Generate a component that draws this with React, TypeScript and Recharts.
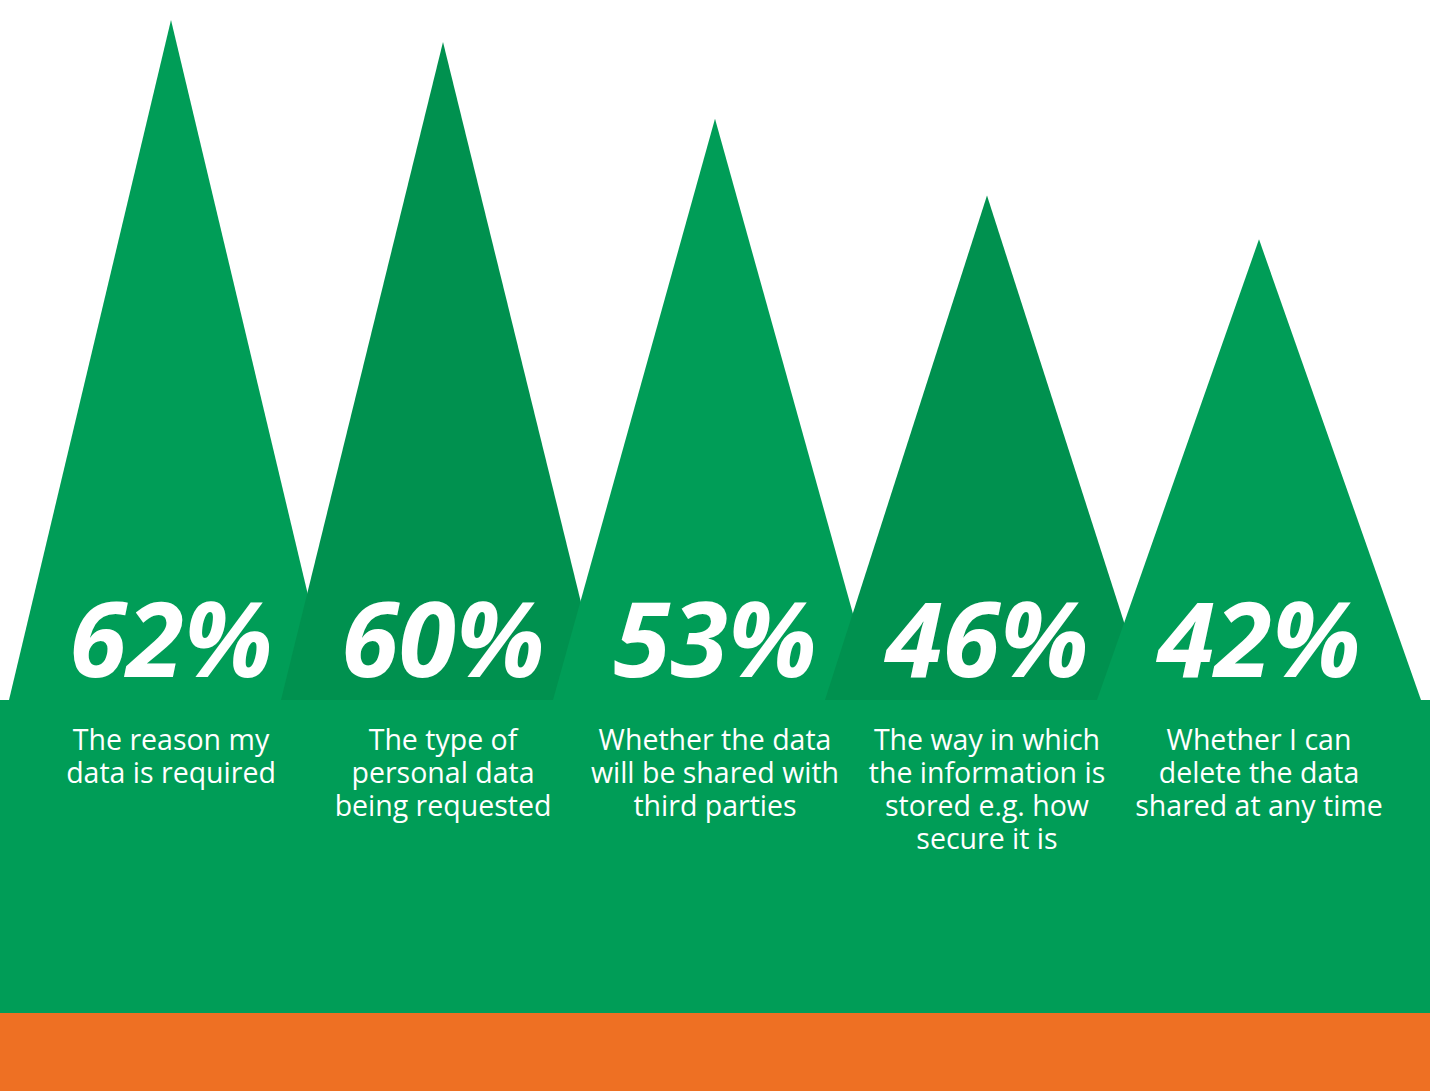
import React from 'react';
import { BarChart, Bar, XAxis, YAxis, Cell, LabelList } from 'recharts';

const CATEGORIES = [
  'The reason my\ndata is required',
  'The type of\npersonal data\nbeing requested',
  'Whether the data\nwill be shared with\nthird parties',
  'The way in which\nthe information is\nstored e.g. how\nsecure it is',
  'Whether I can\ndelete the data\nshared at any time',
];

const VALUES = [62, 60, 53, 46, 42];

const COLORS = ['#009D57', '#00914F', '#009D57', '#00914F', '#009D57'];

const data = CATEGORIES.map((name, i) => ({ name, value: VALUES[i] }));

const HALF_BASE = 162;

const Triangle = (props: any) => {
  const { x, y, width, height, fill } = props;
  const cx = x + width / 2;
  const by = y + height;
  return <path d={`M${cx - HALF_BASE},${by} L${cx},${y} L${cx + HALF_BASE},${by} Z`} fill={fill} />;
};

const PctLabel = (props: any) => {
  const { x, y, width, height, value } = props;
  return (
    <text
      x={x + width / 2}
      y={y + height - 23}
      textAnchor="middle"
      fill="#fff"
      fontFamily="'Open Sans', sans-serif"
      fontWeight={700}
      fontStyle="italic"
      fontSize={104}
    >
      {value}%
    </text>
  );
};

// multi-line category labels under each peak
const CategoryTick = (props: any) => {
  const { x, y, payload } = props;
  const lines = String(payload.value).split('\n');
  return (
    <text
      x={x}
      y={y}
      textAnchor="middle"
      fill="#fff"
      fontFamily="'Open Sans', sans-serif"
      fontSize={28.5}
    >
      {lines.map((line, i) => (
        <tspan key={i} x={x} y={y + 42 + i * 33}>{line}</tspan>
      ))}
    </text>
  );
};

export default function App() {
  return (
    <div style={{ position: 'absolute', left: 0, top: 0, width: 1430, height: 1091, background: '#fff', overflow: 'hidden' }}>
      {/* base band and orange footer */}
      <div style={{ position: 'absolute', left: 0, top: 700, width: 1430, height: 313, background: '#009D57' }} />
      <div style={{ position: 'absolute', left: 0, top: 1013, width: 1430, height: 78, background: '#EE7023' }} />
      <div style={{ position: 'absolute', left: 0, top: 0 }}>
        <BarChart width={1430} height={1091} data={data} margin={{ top: 20, right: 35, bottom: 361, left: 35 }} barCategoryGap={0}>
          <XAxis dataKey="name" axisLine={false} tickLine={false} interval={0} tick={<CategoryTick />} height={30} />
          <YAxis hide domain={[0, 62]} />
          <Bar dataKey="value" shape={<Triangle />} isAnimationActive={false}>
            {data.map((_, i) => (
              <Cell key={i} fill={COLORS[i]} />
            ))}
            <LabelList dataKey="value" content={<PctLabel />} />
          </Bar>
        </BarChart>
      </div>
    </div>
  );
}
